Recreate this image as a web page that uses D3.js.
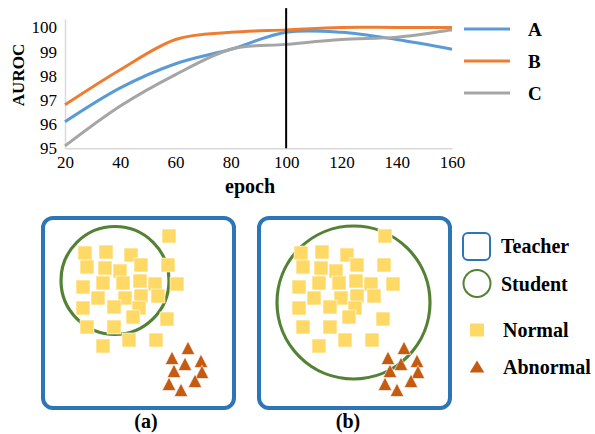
<!DOCTYPE html>
<html>
<head>
<meta charset="utf-8">
<script src="https://cdn.jsdelivr.net/npm/d3@7"></script>
<style>
  body { margin: 0; background: #fff; }
  svg { display: block; }
  svg text { font-family: "Times New Roman", "Liberation Serif", Tinos, "DejaVu Serif", serif !important; fill: #000; }
</style>
</head>
<body>
<svg id="fig" width="595" height="434"></svg>
<script>
// line chart data
const epochs = [20, 40, 60, 80, 100, 120, 140, 160];
const seriesNames = ['A', 'B', 'C'];
const valuesA = [96.1, 97.5, 98.5, 99.1, 99.8, 99.8, 99.5, 99.1];
const valuesB = [96.8, 98.25, 99.5, 99.8, 99.9, 100, 100, 100];
const valuesC = [95.1, 96.75, 98.05, 99.1, 99.3, 99.5, 99.6, 99.9];
const yTicks = [95, 96, 97, 98, 99, 100];
const markEpoch = 100;

// schematic panels (local coords inside a panel box)
const panelLabels = ['(a)', '(b)'];
const normalPts = [
    [126, 18], [42, 35], [63, 34], [88, 37], [44, 49], [62, 50], [77, 53],
    [98, 47], [125, 47], [40, 69], [60, 65], [80, 65], [97, 63], [112, 66],
    [134, 66], [55, 80], [82, 80], [98, 78], [115, 78], [40, 90], [71, 89],
    [96, 90], [90, 99], [124, 101], [44, 109], [71, 109], [60, 128],
    [86, 122], [113, 122],
];
const abnormalPts = [
    [145, 130], [129, 140], [142, 146], [158, 143], [131, 153],
    [159, 154], [126, 166], [152, 163], [138, 172],
];
const studentCircles = [
    { cx: 72, cy: 62.5, r: 54 },
    { cx: 94.5, cy: 84.5, r: 76.5 },
];
const legendLabels = ['Teacher', 'Student', 'Normal', 'Abnormal'];

const colors = { A: '#5B9BD5', B: '#ED7D31', C: '#A5A5A5' };
const teacherColor = '#2E75B6';
const studentColor = '#548235';
const normalColor = '#FFD966';
const abnormalColor = '#C55A11';
const serif = '"Times New Roman", "Liberation Serif", Tinos, "DejaVu Serif", serif';

const svg = d3.select('#fig').attr('font-family', serif);

// ---------- line chart ----------
const x = d3.scaleLinear().domain([20, 160]).range([65, 452]);
const y = d3.scaleLinear().domain([95, 100.35]).range([148.3, 19]);

const xAxis = svg.append('g')
    .attr('transform', `translate(0,${y(95)})`)
    .call(d3.axisBottom(x).tickValues(epochs).tickFormat(d3.format('d'))
        .tickSize(0).tickPadding(8));
const yAxis = svg.append('g')
    .attr('transform', `translate(${x(20)},0)`)
    .call(d3.axisLeft(y).tickValues(yTicks).tickFormat(d3.format('d'))
        .tickSize(0).tickPadding(8));
[xAxis, yAxis].forEach((g) => {
    g.attr('font-family', serif);
    g.select('.domain').attr('stroke', '#D9D9D9').attr('stroke-width', 1.5);
    g.selectAll('text')
        .attr('font-size', 17)
        .attr('fill', '#000');
});

const line = d3.line()
    .x((d, i) => x(epochs[i]))
    .y((d) => y(d))
    .curve(d3.curveCardinal.tension(0));

const series = [valuesA, valuesB, valuesC];
series.forEach((vals, i) => {
    svg.append('path')
        .attr('d', line(vals))
        .attr('fill', 'none')
        .attr('stroke', colors[seriesNames[i]])
        .attr('stroke-width', 3);
});

// epoch 100 marker
svg.append('line')
    .attr('x1', x(markEpoch)).attr('x2', x(markEpoch))
    .attr('y1', y(100.8)).attr('y2', y(95))
    .attr('stroke', '#000')
    .attr('stroke-width', 2);

svg.append('text')
    .attr('transform', 'translate(24,75) rotate(-90)')
    .attr('text-anchor', 'middle')
    .attr('font-size', 17)
    .attr('font-weight', 'bold')
    .text('AUROC');

svg.append('text')
    .attr('x', 250).attr('y', 193)
    .attr('text-anchor', 'middle')
    .attr('font-size', 20)
    .attr('font-weight', 'bold')
    .text('epoch');

// chart legend
const lg = svg.append('g');
seriesNames.forEach((name, i) => {
    const ly = 29 + i * 32;
    lg.append('line')
        .attr('x1', 464).attr('x2', 510)
        .attr('y1', ly).attr('y2', ly)
        .attr('stroke', colors[name])
        .attr('stroke-width', 3);
    lg.append('text')
        .attr('x', 528).attr('y', ly + 7)
        .attr('font-size', 19)
        .attr('font-weight', 'bold')
        .text(name);
});

// ---------- schematic panels ----------
const panelW = 191, panelH = 190;
const panelOrigins = [[43, 218], [259, 218]];

panelLabels.forEach((label, p) => {
    const [ox, oy] = panelOrigins[p];
    const px = d3.scaleLinear().domain([0, panelW]).range([ox, ox + panelW]);
    const py = d3.scaleLinear().domain([0, panelH]).range([oy, oy + panelH]);
    const g = svg.append('g');

    g.append('rect')
        .attr('x', px(0)).attr('y', py(0))
        .attr('width', panelW).attr('height', panelH)
        .attr('rx', 10)
        .attr('fill', 'none')
        .attr('stroke', teacherColor)
        .attr('stroke-width', 4);

    const c = studentCircles[p];
    g.append('circle')
        .attr('cx', px(c.cx)).attr('cy', py(c.cy)).attr('r', c.r)
        .attr('fill', 'none')
        .attr('stroke', studentColor)
        .attr('stroke-width', 3.2);

    g.selectAll('rect.normal')
        .data(normalPts)
        .join('rect')
        .attr('class', 'normal')
        .attr('x', (d) => px(d[0]) - 7)
        .attr('y', (d) => py(d[1]) - 7)
        .attr('width', 14).attr('height', 14)
        .attr('fill', normalColor)
        .attr('stroke', '#fff')
        .attr('stroke-width', 0.6);

    g.selectAll('path.abn')
        .data(abnormalPts)
        .join('path')
        .attr('class', 'abn')
        .attr('d', (d) => {
            const cx = px(d[0]), cy = py(d[1]);
            return `M${cx},${cy - 6.8}L${cx + 6.8},${cy + 6.5}L${cx - 6.8},${cy + 6.5}Z`;
        })
        .attr('fill', abnormalColor)
        .attr('stroke', '#fff')
        .attr('stroke-width', 0.6);
});

svg.append('text')
    .attr('x', 146).attr('y', 428)
    .attr('text-anchor', 'middle')
    .attr('font-size', 20).attr('font-weight', 'bold')
    .text(panelLabels[0]);
svg.append('text')
    .attr('x', 348).attr('y', 428)
    .attr('text-anchor', 'middle')
    .attr('font-size', 20).attr('font-weight', 'bold')
    .text(panelLabels[1]);

// schematic legend
const sl = svg.append('g');
sl.append('rect')
    .attr('x', 463).attr('y', 233).attr('width', 27).attr('height', 27)
    .attr('rx', 5)
    .attr('fill', 'none').attr('stroke', teacherColor).attr('stroke-width', 2);
sl.append('circle')
    .attr('cx', 477).attr('cy', 283.5).attr('r', 13.5)
    .attr('fill', 'none').attr('stroke', studentColor).attr('stroke-width', 2);
sl.append('rect')
    .attr('x', 470).attr('y', 323.5).attr('width', 14).attr('height', 13)
    .attr('fill', normalColor);
sl.append('path')
    .attr('d', 'M477,360.5L484.3,372.5L469.7,372.5Z')
    .attr('fill', abnormalColor);

const legendY = [246, 284, 330, 367];
legendLabels.forEach((t, i) => {
    sl.append('text')
        .attr('x', i < 2 ? 501 : 503)
        .attr('y', legendY[i] + 7)
        .attr('font-size', 20)
        .attr('font-weight', 'bold')
        .text(t);
});
</script>
</body>
</html>
